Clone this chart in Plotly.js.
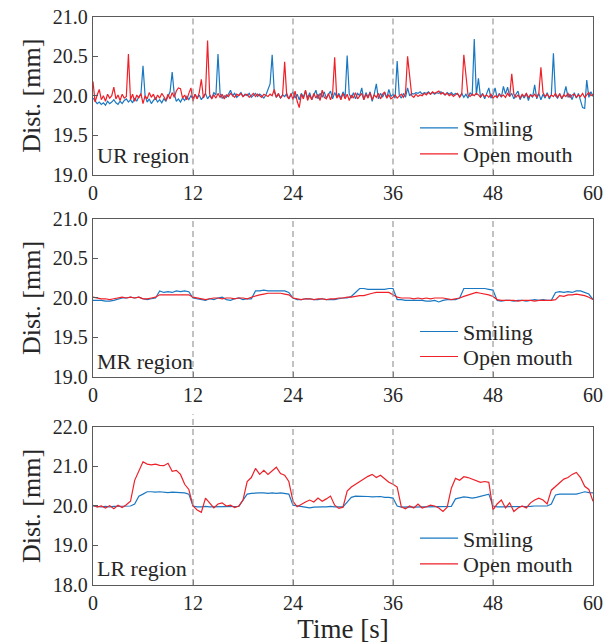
<!DOCTYPE html>
<html>
<head>
<meta charset="utf-8">
<script src="https://cdn.plot.ly/plotly-3.0.1.min.js"></script>
<style>html,body{margin:0;padding:0;background:#fff;}#chart{width:605px;height:644px;}</style>
</head>
<body>
<div id="chart"></div>
<script>
// ---------- data ----------
const seriesNames = ['Smiling', 'Open mouth'];
const regionLabels = ['UR region', 'MR region', 'LR region'];
const xTicks = [0, 12, 24, 36, 48, 60];
const sessionBounds = [12, 24, 36, 48];

// UR region, sampled every 0.25 s
const urStep = 0.25;
const urSmiling = [
19.97,19.93,19.90,19.92, 19.89,19.91,19.88,19.93, 19.90,19.92,19.95,19.91, 19.89,19.93,19.90,19.94,
19.96,19.92,19.95,19.91, 19.97,19.93,19.99,20.02, 20.38,20.00,19.92,19.96, 19.90,19.94,19.97,19.92,
19.95,19.91,19.96,19.93, 19.98,20.05,20.30,20.02, 19.93,19.96,19.92,19.97, 19.94,19.99,19.95,20.00,
19.96,20.02,19.97,20.01, 19.95,19.99,20.03,19.96, 20.00,19.97,20.04,20.01, 20.53,20.03,19.97,20.00,
19.98,20.02,20.07,20.00, 20.03,19.98,20.01,20.04, 19.99,20.02,20.00,20.03, 19.98,20.01,20.03,19.99,
20.02,20.00,19.97,20.01, 20.08,20.15,20.52,20.05, 19.98,20.02,19.97,20.01, 19.99,20.03,19.96,20.00,
20.05,19.97,20.02,19.95, 20.03,19.98,20.06,19.97, 20.04,19.95,20.01,20.07, 19.96,20.03,19.98,20.05,
19.97,20.02,20.06,19.96, 20.04,19.98,20.03,19.97, 20.05,19.98,20.51,20.02, 19.97,20.04,19.96,20.03,
20.00,20.10,19.95,20.04, 19.98,20.05,19.93,20.02, 20.15,19.96,20.03,19.98, 20.04,19.97,20.08,19.99,
20.02,19.97,20.44,20.01, 19.97,20.03,19.98,20.10, 20.00,20.03,20.02,20.04, 20.03,20.05,20.02,20.04,
20.03,20.05,20.02,20.04, 20.02,20.04,20.03,20.05, 20.03,20.01,20.04,20.02, 20.04,20.01,20.03,20.02,
19.99,20.03,19.98,20.02, 19.97,20.04,20.00,20.72, 20.01,20.22,19.98,20.03, 19.96,20.02,20.10,19.97,
20.01,20.10,19.97,20.03, 19.98,20.12,20.02,20.11, 19.99,20.03,19.96,20.02, 20.06,19.95,20.01,19.97,
20.03,19.94,20.02,19.98, 20.14,19.96,20.03,19.95, 20.02,19.97,20.04,19.96, 20.01,20.54,20.00,19.97,
20.03,19.96,20.01,20.12, 19.98,20.02,19.95,20.04, 19.97,20.03,19.94,19.85, 19.84,20.20,19.98,20.05,
19.99];
const urOpen = [
20.18,19.92,20.01,20.08, 19.95,20.00,19.93,20.02, 19.97,20.00,20.11,19.96, 20.01,19.94,20.02,19.97,
19.99,20.53,19.95,20.02, 19.93,20.01,19.97,20.03, 19.90,20.00,19.96,20.04, 19.98,20.02,19.95,20.01,
19.97,20.03,19.99,19.94, 20.02,19.96,20.04,19.98, 20.06,20.10,20.09,19.97, 20.01,19.95,20.03,20.10,
19.93,20.02,19.96,20.04, 20.21,19.97,20.03,20.70, 20.02,19.96,20.01,19.97, 20.03,19.98,20.02,19.96,
20.01,19.99,20.03,20.00, 19.98,20.02,20.00,20.03, 19.99,20.01,20.02,19.98, 20.01,20.03,19.99,20.02,
20.00,19.98,20.02,20.01, 19.99,20.02,20.00,20.08, 19.98,20.03,19.97,20.01, 20.43,20.00,19.96,20.03,
19.95,20.06,19.93,19.85, 20.02,19.96,20.07,19.94, 20.01,19.95,20.03,19.97, 20.02,19.94,20.07,19.98,
19.96,20.03,19.95,20.02, 20.49,19.97,20.01,19.95, 20.03,19.96,20.02,19.94, 20.01,19.97,20.04,19.96,
19.99,20.03,19.95,20.02, 19.97,20.04,19.95,20.01, 19.98,20.03,19.96,20.02, 20.05,19.97,20.01,19.96,
19.98,20.01,19.97,19.99, 20.02,19.98,20.03,20.50, 20.25,20.00,19.98,20.02, 19.99,20.01,20.00,20.03,
20.01,20.04,20.02,20.05, 20.03,20.04,20.06,20.02, 20.04,20.01,20.03,20.00, 20.02,19.99,20.01,20.03,
19.98,20.02,20.52,20.30, 20.01,19.99,20.02,20.00, 20.03,20.01,19.98,20.02, 19.99,20.01,19.98,20.02,
19.97,20.00,19.98,20.02, 19.99,20.01,19.98,20.03, 19.99,20.28,20.02,19.98, 20.01,19.97,20.02,19.99,
20.03,19.98,20.01,19.99, 20.02,19.98,20.03,20.36, 20.04,19.99,20.02,19.98, 20.01,19.99,20.03,19.98,
20.02,19.97,20.01,19.99, 20.03,19.98,20.01,20.02, 19.98,20.01,19.99,20.03, 19.98,20.01,20.04,20.00,
20.02];

// MR and LR regions, sampled every 0.5 s
const mlStep = 0.5;
const mrSmiling = [
19.97,19.97,19.97,19.96,19.96,19.97,19.99,20.00,20.00,20.01,
20.00,20.01,19.99,19.98,19.99,20.00,20.09,20.07,20.08,20.07,
20.09,20.08,20.09,20.08,20.00,19.99,19.98,19.97,19.99,19.98,
20.00,20.01,19.98,19.97,19.99,20.00,19.98,19.99,19.99,20.09,
20.09,20.10,20.09,20.09,20.09,20.09,20.09,20.07,20.00,19.98,
19.98,19.99,19.99,19.98,19.98,19.99,19.98,19.98,19.98,19.99,
20.00,20.00,20.02,20.07,20.12,20.12,20.11,20.11,20.11,20.11,
20.11,20.12,20.12,19.98,19.98,19.97,19.97,19.97,19.97,19.97,
19.96,19.96,19.97,19.95,19.97,19.98,19.98,19.98,20.00,20.12,
20.12,20.12,20.12,20.12,20.12,20.11,20.10,19.97,19.96,19.97,
19.97,19.96,19.97,19.97,19.96,19.97,19.98,19.97,19.98,19.97,
19.97,20.07,20.08,20.07,20.08,20.07,20.09,20.09,20.07,20.05,
19.98];
const mrOpen = [
20.01,20.00,19.99,19.99,19.98,19.99,20.00,20.01,20.00,20.01,
20.00,20.01,19.99,19.99,20.00,20.01,20.04,20.04,20.04,20.04,
20.04,20.04,20.04,20.04,20.01,20.00,19.99,19.98,19.99,20.00,
20.00,19.99,20.00,20.00,19.99,20.00,20.00,19.99,20.01,20.03,
20.04,20.05,20.06,20.06,20.06,20.06,20.05,20.04,20.00,19.99,
19.98,19.99,19.99,19.98,19.99,19.99,19.98,19.99,19.99,20.00,
20.00,20.01,20.01,20.02,20.03,20.03,20.05,20.06,20.07,20.07,
20.07,20.07,20.04,20.01,20.00,20.00,20.00,19.99,20.00,19.99,
20.00,19.99,20.00,20.00,20.00,19.99,19.98,19.99,20.00,20.02,
20.04,20.06,20.07,20.06,20.05,20.04,20.02,19.98,19.97,19.97,
19.97,19.97,19.96,19.97,19.97,19.97,19.96,19.97,19.97,19.97,
19.97,19.98,20.03,20.02,20.04,20.04,20.05,20.04,20.03,20.01,
19.98];
const lrSmiling = [
20.00,19.99,19.98,19.99,19.98,19.99,19.99,20.00,19.99,20.00,
20.05,20.25,20.30,20.36,20.36,20.35,20.36,20.35,20.34,20.35,
20.35,20.34,20.33,20.30,20.00,19.98,19.98,19.99,19.98,19.98,
19.99,19.98,19.98,19.99,19.98,19.99,20.15,20.30,20.32,20.33,
20.33,20.33,20.32,20.33,20.32,20.33,20.32,20.30,20.02,20.00,
19.99,19.96,19.95,19.97,19.98,19.98,19.98,19.99,19.98,19.98,
19.98,20.10,20.22,20.25,20.25,20.24,20.24,20.23,20.23,20.24,
20.22,20.22,20.20,20.00,19.97,19.98,19.98,19.97,19.98,19.98,
19.98,19.98,19.98,19.98,19.99,19.98,19.99,20.18,20.20,20.23,
20.22,20.20,20.22,20.25,20.28,20.30,20.00,19.98,19.98,19.98,
19.98,19.98,19.98,19.99,19.99,19.99,20.00,20.00,20.00,20.00,
20.05,20.28,20.30,20.30,20.29,20.30,20.30,20.33,20.36,20.34,
20.33];
const lrOpen = [
20.02,19.97,20.00,19.95,20.01,19.93,20.02,19.96,20.03,20.12,
20.65,20.88,21.12,21.06,21.04,21.06,21.03,21.02,21.08,20.88,
20.90,20.80,20.55,20.42,20.00,19.90,19.84,20.20,20.08,19.95,
20.05,20.08,20.00,20.02,19.96,20.00,20.15,20.62,20.72,20.95,
20.80,20.90,20.80,20.90,20.98,20.82,20.78,20.62,20.12,19.98,
20.05,20.10,20.15,20.10,20.20,20.12,20.18,20.25,20.02,19.94,
19.97,20.38,20.48,20.55,20.60,20.68,20.75,20.80,20.72,20.78,
20.68,20.60,20.55,20.48,19.98,19.93,20.00,19.95,20.05,19.95,
19.98,20.02,20.00,19.95,19.86,19.97,20.45,20.70,20.65,20.74,
20.72,20.68,20.65,20.60,20.62,20.60,19.90,20.05,20.15,19.95,
20.08,19.86,19.95,20.00,19.95,20.08,20.15,20.20,20.15,20.05,
20.40,20.50,20.60,20.68,20.72,20.80,20.85,20.72,20.50,20.42,
20.12];

// ---------- styling ----------
const BLUE = '#1a78c2', RED = '#ee2028';
const FONT = 'Liberation Serif, Times New Roman, serif';
const TXT = '#262626';
const FRAME = '#5a5a5a';
const PLOT_BOTTOM_PX = 585, PLOT_H_PX = 568;
const pxToPaperY = py => (PLOT_BOTTOM_PX - py) / PLOT_H_PX;

const timesFor = (arr, step) => arr.map((_, i) => i * step);

const panels = [
  {xa:'x',  ya:'y',  sm:urSmiling, op:urOpen, step:urStep, legs:['legend','legend2'], legPx:[128, 154],     dom:[0.7227, 1.0],   range:[19, 21], dtick:0.5, label:regionLabels[0], ly:0.123},
  {xa:'x2', ya:'y2', sm:mrSmiling, op:mrOpen, step:mlStep, legs:['legend3','legend4'], legPx:[331.7, 356.7], dom:[0.3662, 0.6444], range:[19, 21], dtick:0.5, label:regionLabels[1], ly:0.097},
  {xa:'x3', ya:'y3', sm:lrSmiling, op:lrOpen, step:mlStep, legs:['legend5','legend6'], legPx:[538.3, 564],   dom:[0.0, 0.2782],    range:[18, 22], dtick:1.0, label:regionLabels[2], ly:0.106}
];

const traces = [];
const layout = {
  width: 605, height: 644,
  margin: {l: 93, r: 12, t: 17, b: 59},
  paper_bgcolor: '#fff', plot_bgcolor: '#fff',
  font: {family: FONT, color: TXT, size: 20},
  showlegend: true,
  shapes: [], annotations: []
};

panels.forEach((p, k) => {
  const n = k === 0 ? '' : String(k + 1);
  traces.push({x: timesFor(p.sm, p.step), y: p.sm, type: 'scatter', mode: 'lines', name: seriesNames[0],
    xaxis: p.xa, yaxis: p.ya, legend: p.legs[0], line: {color: BLUE, width: 1.2}});
  traces.push({x: timesFor(p.op, p.step), y: p.op, type: 'scatter', mode: 'lines', name: seriesNames[1],
    xaxis: p.xa, yaxis: p.ya, legend: p.legs[1], line: {color: RED, width: 1.2}});

  layout['xaxis' + n] = {
    range: [0, 60], tickvals: xTicks, ticks: 'inside', ticklen: 5, tickcolor: FRAME,
    showline: true, mirror: true, linecolor: FRAME, linewidth: 1.3,
    showgrid: false, zeroline: false, anchor: 'y' + n,
    tickfont: {family: FONT, size: 20, color: TXT}
  };
  if (k === 2) {
    layout['xaxis' + n].title = {text: 'Time [s]', font: {family: FONT, size: 27, color: TXT}, standoff: 5};
  }
  layout['yaxis' + n] = {
    domain: p.dom, range: p.range, dtick: p.dtick, tick0: p.range[0], tickformat: '.1f',
    ticks: 'inside', ticklen: 5, tickcolor: FRAME,
    showline: true, mirror: true, linecolor: FRAME, linewidth: 1.3,
    showgrid: false, zeroline: false, anchor: 'x' + n,
    tickfont: {family: FONT, size: 20, color: TXT},
    title: {text: 'Dist. [mm]', font: {family: FONT, size: 26, color: TXT}, standoff: 4}
  };

  sessionBounds.forEach(b => {
    layout.shapes.push({type: 'line', xref: p.xa, yref: p.ya + ' domain', x0: b, x1: b, y0: 0,
      y1: (k === 2 && b === 12) ? 1.08 : 1, line: {color: '#9a9a9a', width: 1.2, dash: '6px,4px'}, layer: 'above'});
  });

  layout.annotations.push({xref: p.xa + ' domain', yref: p.ya + ' domain', x: 0.003, y: p.ly,
    xanchor: 'left', yanchor: 'middle', text: p.label, showarrow: false,
    font: {family: FONT, size: 22, color: TXT}});

  p.legs.forEach((lg, j) => {
    layout[lg] = {
      x: 0.644, xanchor: 'left', xref: 'paper',
      y: pxToPaperY(p.legPx[j]), yanchor: 'middle', yref: 'paper',
      bgcolor: 'rgba(0,0,0,0)', borderwidth: 0, itemwidth: 38,
      font: {family: FONT, size: 22, color: TXT}, tracegroupgap: 0
    };
  });
});

Plotly.newPlot('chart', traces, layout, {displayModeBar: false, staticPlot: true});
</script>
</body>
</html>
